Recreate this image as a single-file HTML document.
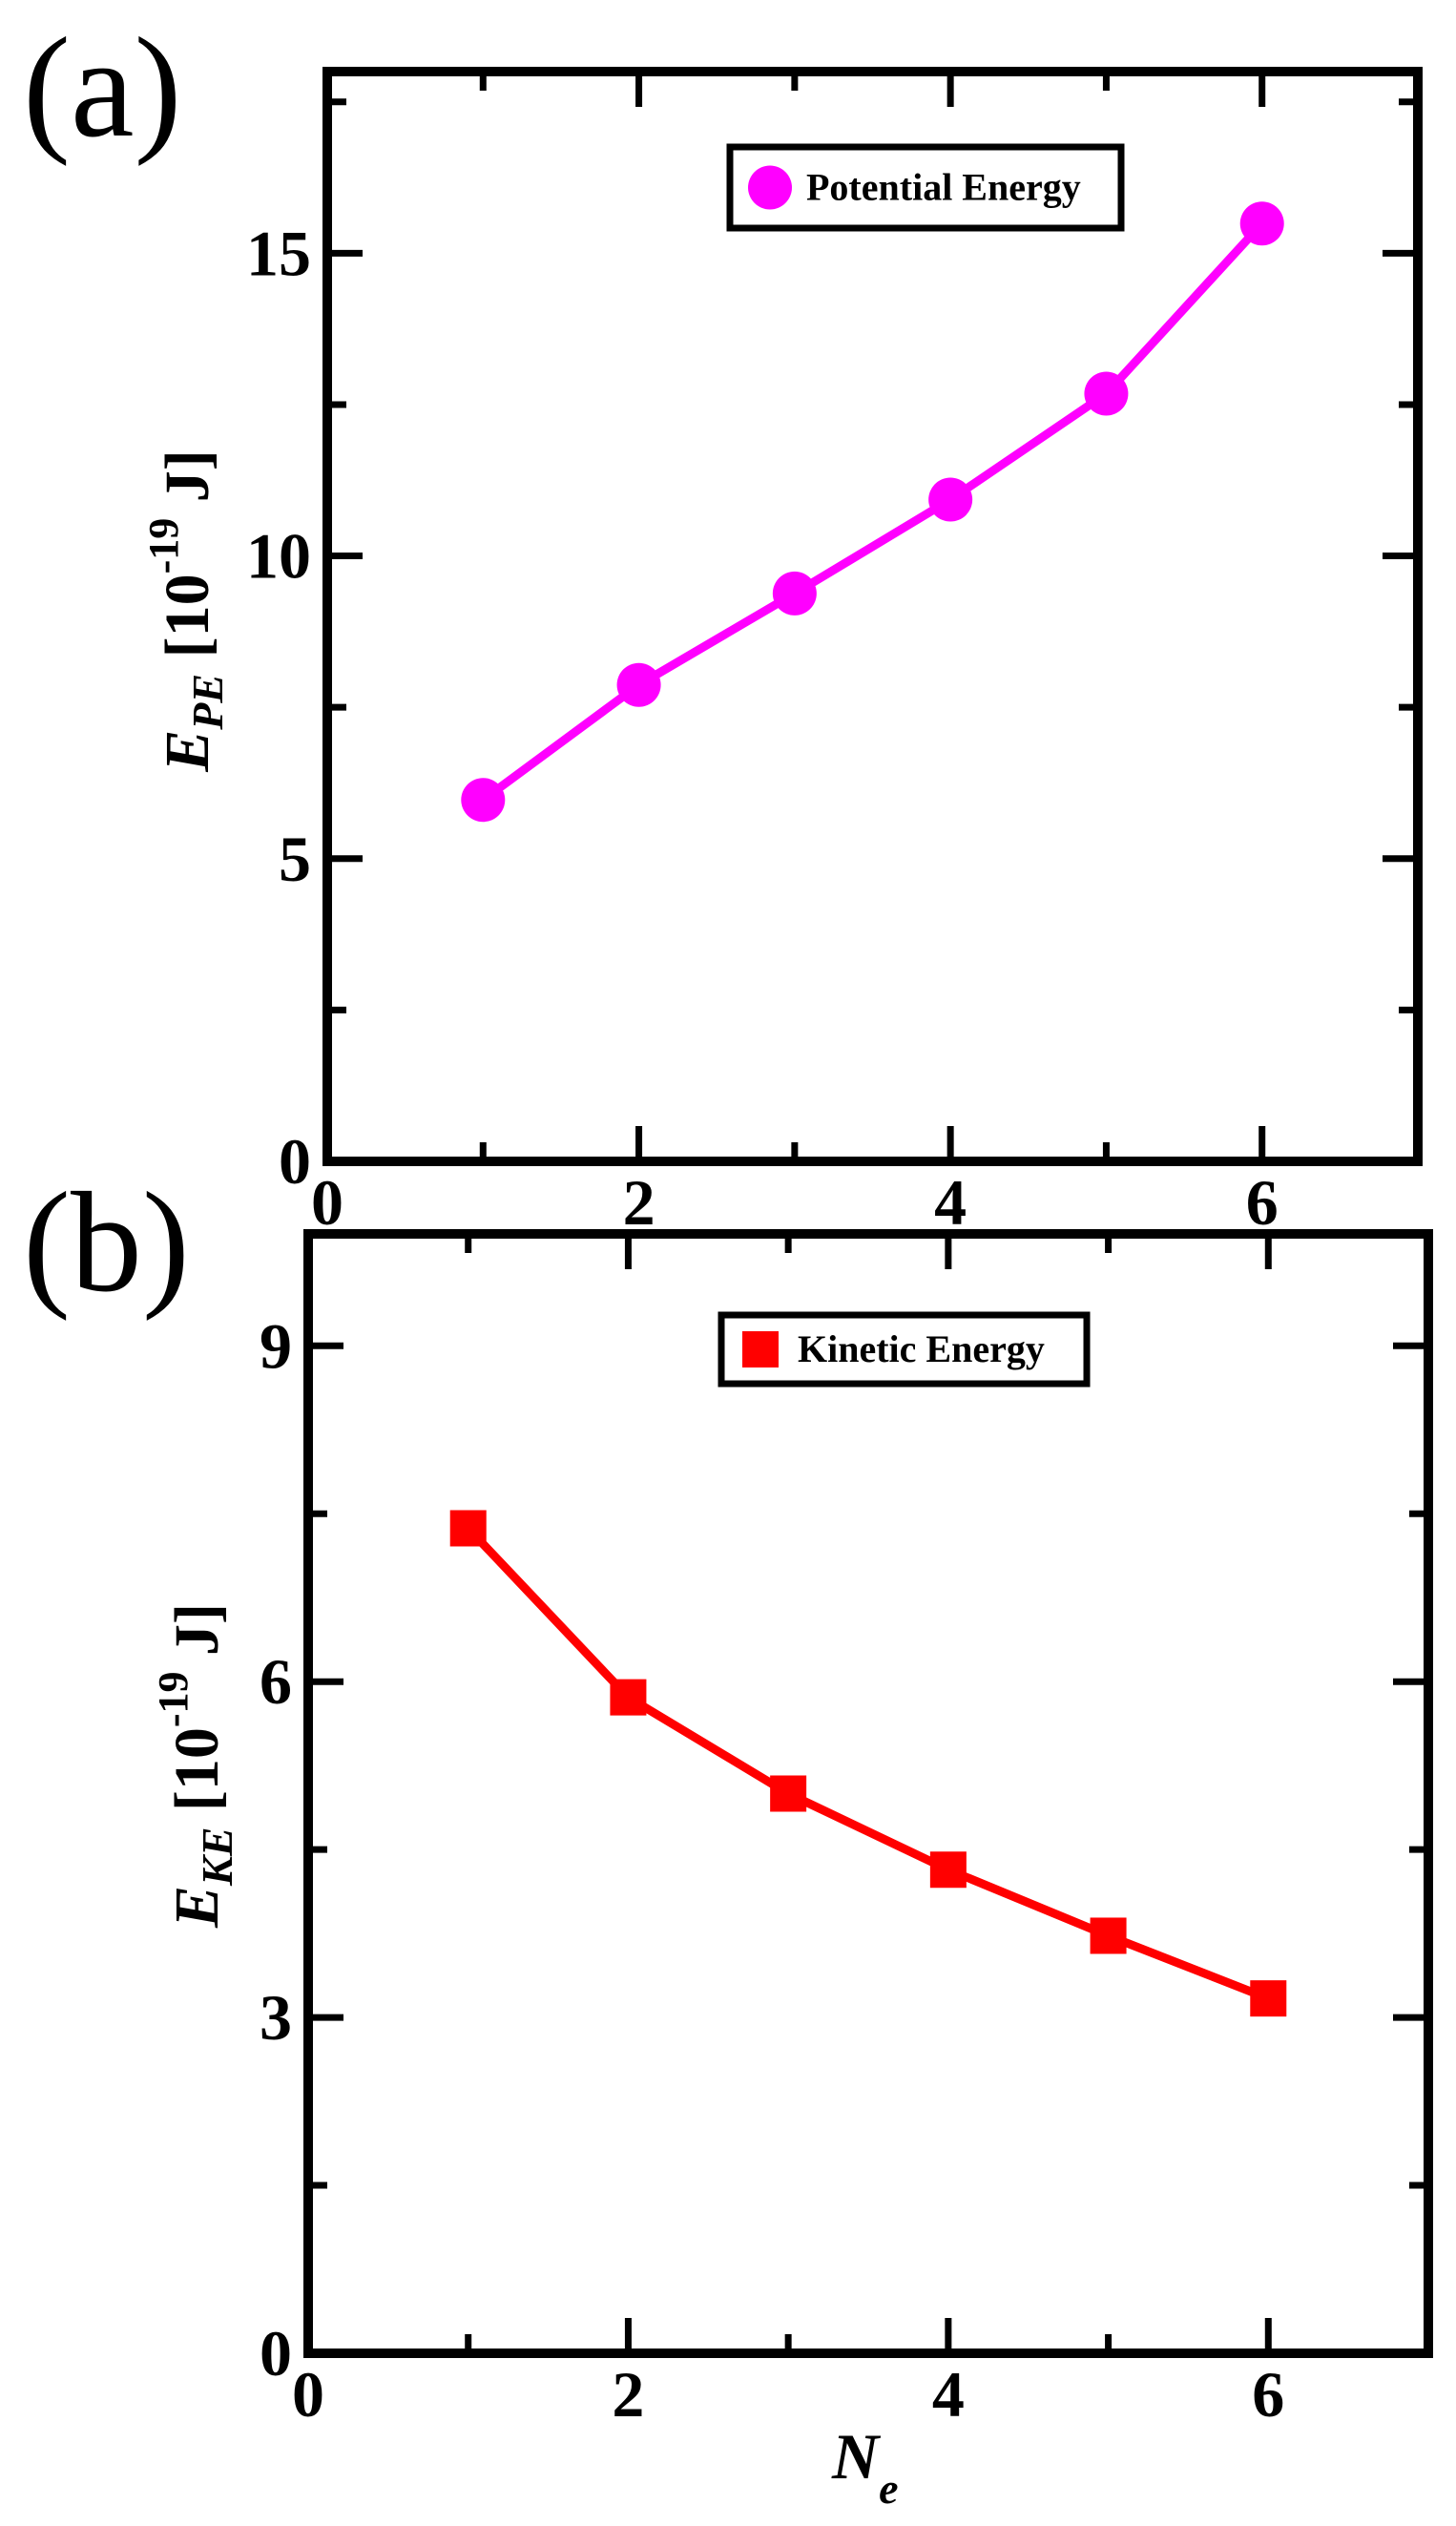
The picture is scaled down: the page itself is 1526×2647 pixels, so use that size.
<!DOCTYPE html>
<html><head><meta charset="utf-8"><style>
html,body{margin:0;padding:0;background:#fff;}
svg{display:block;font-family:"Liberation Serif","DejaVu Serif",serif;}
text{font-family:"Liberation Serif","DejaVu Serif",serif;}
</style></head><body>
<svg id="fig" width="1526" height="2647" viewBox="0 0 1526 2647" xmlns="http://www.w3.org/2000/svg">
<text x="24" y="142" font-size="150">(a)</text>
<text x="24" y="1352" font-size="150">(b)</text>
<text transform="translate(218,640) rotate(-90)" text-anchor="middle" font-size="66" font-weight="bold"><tspan font-style="italic">E</tspan><tspan font-style="italic" font-size="46" dy="15">PE</tspan><tspan dy="-15"> [10</tspan><tspan font-size="44" dy="-32">-19</tspan><tspan dy="32"> J]</tspan></text>
<text transform="translate(228,1850) rotate(-90)" text-anchor="middle" font-size="66" font-weight="bold"><tspan font-style="italic">E</tspan><tspan font-style="italic" font-size="46" dy="15">KE</tspan><tspan dy="-15"> [10</tspan><tspan font-size="44" dy="-32">-19</tspan><tspan dy="32"> J]</tspan></text>
<text x="872" y="2597" font-size="68" font-weight="bold" font-style="italic">N<tspan font-size="46" dy="26">e</tspan></text>
</svg>
<script>
const NS='http://www.w3.org/2000/svg';
const svg=document.getElementById('fig');
const peX=[1,2,3,4,5,6];
const peY=[5.97,7.87,9.38,10.93,12.68,15.49];
const keX=[1,2,3,4,5,6];
const keY=[7.37,5.86,5.0,4.32,3.73,3.17];
const xMajorTicks=[0,2,4,6];
const xMinorTicks=[1,3,5];
const peYMajor=[0,5,10,15];
const peYMinor=[2.5,7.5,12.5,17.5];
const keYMajor=[0,3,6,9];
const keYMinor=[1.5,4.5,7.5];

function el(tag,attrs,parent){const e=document.createElementNS(NS,tag);for(const k in attrs)e.setAttribute(k,attrs[k]);(parent||svg).appendChild(e);return e;}

function panel(cfg){
  const L=cfg.left,R=cfg.right,T=cfg.top,B=cfg.bottom;
  const sx=v=>L+(v-0)/(7-0)*(R-L);
  const sy=v=>B-(v-0)/(cfg.ymax-0)*(B-T);
  const g=el('g',{});
  
  
  const tk=(x1,y1,x2,y2,nm)=>{const l=el('line',{x1,y1,x2,y2,stroke:'#000','stroke-width':7},g);};
  xMajorTicks.forEach(v=>{tk(sx(v),B,sx(v),B-37,'x-tick');tk(sx(v),T,sx(v),T+37,'x-tick-top');});
  xMinorTicks.forEach(v=>{tk(sx(v),B,sx(v),B-20,'x-minor-tick');tk(sx(v),T,sx(v),T+20,'x-minor-tick-top');});
  cfg.yMajor.forEach(v=>{tk(L,sy(v),L+37,sy(v),'y-tick');tk(R,sy(v),R-37,sy(v),'y-tick-right');});
  cfg.yMinor.forEach(v=>{tk(L,sy(v),L+20,sy(v),'y-minor-tick');tk(R,sy(v),R-20,sy(v),'y-minor-tick-right');});
  xMajorTicks.forEach(v=>{const t=el('text',{x:sx(v),y:B+66,'text-anchor':'middle','font-size':68,'font-weight':'bold'},g);t.textContent=v;});
  cfg.yMajor.forEach(v=>{const t=el('text',{x:L-17,y:sy(v)+23,'text-anchor':'end','font-size':68,'font-weight':'bold'},g);t.textContent=v;});
  const f=el('rect',{x:L,y:T,width:R-L,height:B-T,fill:'none',stroke:'#000','stroke-width':10},g);
  
  
  const pts=cfg.xs.map((x,i)=>sx(x)+','+sy(cfg.ys[i])).join(' ');
  const pl=el('polyline',{points:pts,fill:'none',stroke:cfg.color,'stroke-width':9,'stroke-linejoin':'round'},g);
  
  
  cfg.xs.forEach((x,i)=>{
    let m;
    if(cfg.marker==='circle'){m=el('circle',{cx:sx(x),cy:sy(cfg.ys[i]),r:23,fill:cfg.color},g);}
    else{m=el('rect',{x:sx(x)-19,y:sy(cfg.ys[i])-19,width:38,height:38,fill:cfg.color},g);}
    
    
  });
  const lg=el('g',{},g);
  
  
  const lb=cfg.legend;
  el('rect',{x:lb.x,y:lb.y,width:lb.w,height:lb.h,fill:'#fff',stroke:'#000','stroke-width':7},lg);
  if(cfg.marker==='circle')el('circle',{cx:lb.x+42,cy:lb.y+lb.h/2,r:23,fill:cfg.color},lg);
  else el('rect',{x:lb.x+22,y:lb.y+lb.h/2-19,width:38,height:38,fill:cfg.color},lg);
  const lt=el('text',{x:lb.x+80,y:lb.y+lb.h/2+13,'font-size':40,'font-weight':'bold'},lg);
  lt.textContent=lb.text;
}
panel({name:'potential-energy',left:343,right:1486,top:75,bottom:1217,ymax:18,xs:peX,ys:peY,color:'#ff00ff',marker:'circle',yMajor:peYMajor,yMinor:peYMinor,legend:{x:765,y:154,w:410,h:85,text:'Potential Energy'}});
panel({name:'kinetic-energy',left:323,right:1497,top:1293,bottom:2466,ymax:10,xs:keX,ys:keY,color:'#ff0000',marker:'square',yMajor:keYMajor,yMinor:keYMinor,legend:{x:756,y:1378,w:383,h:72,text:'Kinetic Energy'}});
</script>
</body></html>
